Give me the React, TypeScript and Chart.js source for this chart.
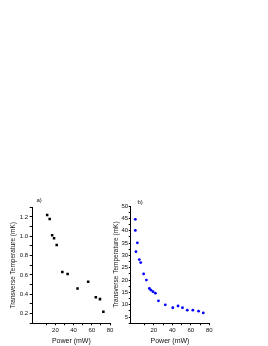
import React, { useEffect, useRef } from "react";
import { Chart, registerables } from "chart.js";

Chart.register(...registerables);

// Panel a) – squares
const powerA = [10.9, 13.7, 16.4, 18.5, 21.4, 27.6, 33.4, 44.3, 56, 64.4, 69, 72.7];
const tempA = [1.22, 1.18, 1.01, 0.98, 0.91, 0.63, 0.61, 0.46, 0.53, 0.37, 0.35, 0.22];

// Panel b) – blue dots
const powerB = [0, 0, 2.2, 0.7, 4.3, 5.8, 9.0, 12.0, 15.2, 17.0, 19.1, 21.7, 25.0, 32.4, 40.5, 46.2, 51.0, 56.2, 62.2, 68.4, 73.5];
const tempB = [44.6, 40.1, 35.1, 31.5, 28.3, 27.1, 22.5, 20.0, 16.6, 15.9, 15.3, 14.7, 11.6, 10.0, 8.8, 9.5, 8.8, 7.8, 7.8, 7.4, 6.7];

const xTitle = "Power (mW)";
const yTitle = "Transverse Temperature (mK)";
const FONT = "'Liberation Sans', Arial, sans-serif";

function makeChart(
  canvas: HTMLCanvasElement,
  xs: number[],
  ys: number[],
  opts: any
) {
  const data = xs.map((x, i) => ({ x, y: ys[i] }));
  return new Chart(canvas, {
    type: "scatter",
    data: {
      datasets: [
        {
          data,
          pointStyle: opts.pointStyle,
          pointRadius: opts.radius,
          pointBackgroundColor: opts.color,
          pointBorderWidth: 0,
          pointBorderColor: opts.color,
          showLine: false,
        },
      ],
    },
    options: {
      responsive: false,
      animation: false,
      events: [],
      layout: { padding: opts.padding },
      plugins: { legend: { display: false }, tooltip: { enabled: false } },
      scales: {
        x: {
          type: "linear",
          min: -5,
          max: 80,
          afterFit: (s: any) => {
            s.height = 22.7;
          },
          border: { display: true, color: "#000", width: 1 },
          grid: {
            drawOnChartArea: false,
            drawTicks: true,
            tickLength: 2,
            lineWidth: 1,
            tickColor: (c: any) => (c.tick && c.tick.value < 0 ? "rgba(0,0,0,0)" : "#000"),
          },
          ticks: {
            stepSize: 10,
            autoSkip: false,
            maxRotation: 0,
            padding: 1,
            color: "#111",
            font: { family: FONT, size: 6 },
            callback: (v: any) => {
              const n = Number(v);
              return n >= 0 && Math.round(n) % 20 === 0 ? String(Math.round(n)) : "";
            },
          },
          title: {
            display: true,
            text: xTitle,
            color: "#111",
            font: { family: FONT, size: 7 },
            padding: { top: 0, bottom: 1 },
          },
        },
        y: {
          type: "linear",
          min: opts.yMin,
          max: opts.yMax,
          afterFit: (s: any) => {
            s.width = opts.yWidth;
          },
          border: { display: true, color: "#000", width: 1 },
          grid: {
            drawOnChartArea: false,
            drawTicks: true,
            tickLength: opts.yTickLen,
            lineWidth: 1,
            tickColor: "#000",
          },
          ticks: {
            stepSize: opts.yStep,
            autoSkip: false,
            padding: opts.yPad,
            color: "#111",
            font: { family: FONT, size: 6 },
            callback: opts.yCallback,
          },
          title: {
            display: true,
            text: yTitle,
            color: "#111",
            font: { family: FONT, size: 6.5 },
            padding: { top: 0, bottom: 0 },
          },
        },
      },
    },
  });
}

export default function App() {
  const refA = useRef<HTMLCanvasElement>(null);
  const refB = useRef<HTMLCanvasElement>(null);

  useEffect(() => {
    const a = makeChart(refA.current!, powerA, tempA, {
      pointStyle: "rect",
      radius: 1.8,
      color: "#000",
      padding: { left: 9.4, top: 12.3, right: 15, bottom: 0 },
      yMin: 0.1,
      yMax: 1.3,
      yStep: 0.1,
      yWidth: 23.3,
      yTickLen: 3,
      yPad: 1.5,
      yCallback: (v: any) => {
        const k = Math.round(Number(v) * 10);
        return k % 2 === 0 && k >= 2 && k <= 12 ? (k / 10).toFixed(1) : "";
      },
    });
    const b = makeChart(refB.current!, powerB, tempB, {
      pointStyle: "circle",
      radius: 1.4,
      color: "#0000ff",
      padding: { left: 7.8, top: 11, right: 20.7, bottom: 0 },
      yMin: 2.5,
      yMax: 50,
      yStep: 2.5,
      yWidth: 17.9,
      yTickLen: 2,
      yPad: 0.5,
      yCallback: (v: any) => {
        const k = Math.round(Number(v) * 10);
        return k % 50 === 0 && k >= 50 ? String(k / 10) : "";
      },
    });
    return () => {
      a.destroy();
      b.destroy();
    };
  }, []);

  const labelStyle: React.CSSProperties = {
    position: "absolute",
    fontFamily: FONT,
    fontSize: "6px",
    lineHeight: "6px",
    color: "#111",
  };

  return (
    <div style={{ position: "absolute", left: 0, top: 0, width: 268, height: 346, background: "#fff" }}>
      <canvas ref={refA} width={125} height={151} style={{ position: "absolute", left: 0, top: 195 }} />
      <canvas ref={refB} width={125} height={151} style={{ position: "absolute", left: 105, top: 195 }} />
      <div style={{ ...labelStyle, left: 36.5, top: 197 }}>a)</div>
      <div style={{ ...labelStyle, left: 137.5, top: 198.5 }}>b)</div>
    </div>
  );
}
